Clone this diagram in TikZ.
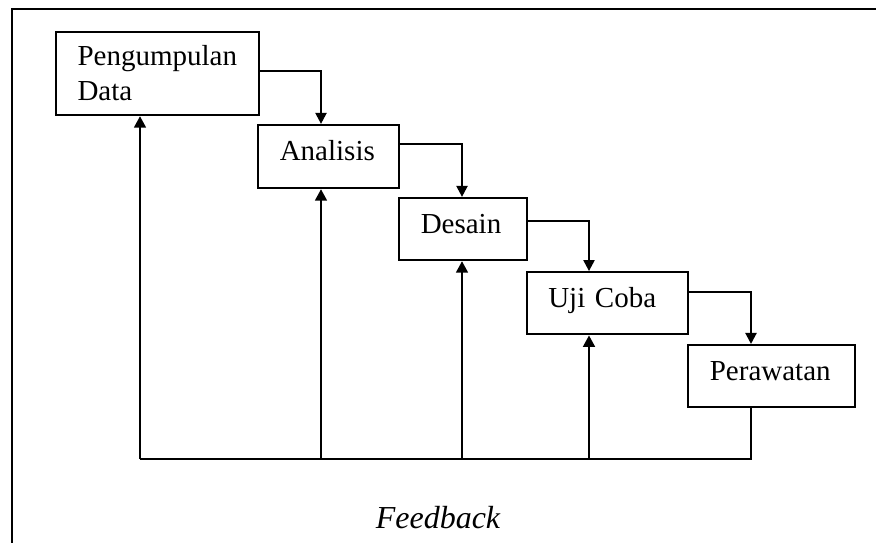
\documentclass[tikz,border=0pt]{standalone}
\usepackage{fontspec}
\setmainfont{Liberation Serif}
\usetikzlibrary{arrows.meta}
\tikzset{
  box/.style={draw, line width=2.2pt, rectangle, inner xsep=21.5pt, inner ysep=0pt,
    align=left, font=\fontsize{29pt}{35pt}\selectfont},
  onebox/.style={box, text height=20pt, text depth=12pt},
  conn/.style={line width=2.2pt, -{Triangle[width=11pt,length=11pt]}},
  fbline/.style={line width=2.2pt},
  fbarr/.style={line width=2.8pt, -{Triangle[width=11.5pt,length=11.5pt]}},
  frame/.style={line width=2.2pt}
}
\begin{document}
\begin{tikzpicture}[x=1pt,y=-1pt]
\useasboundingbox (0,0) rectangle (876,543);
% outer frame (top and left)
\draw[frame] (12,543) -- (12,9) -- (876,9);
% boxes
\node[box, text width=160pt, minimum height=83pt] (pd) at (157.5,73.5) {Pengumpulan\\Data};
\node[onebox, text width=98pt, minimum height=63pt] (an) at (328.8,156.5) {Analisis};
\node[onebox, text width=84.5pt, minimum height=62pt] (de) at (463,229) {Desain};
\node[onebox, text width=118.5pt, minimum height=62pt] (uc) at (607.5,303.2) {Uji Coba};
\node[onebox, text width=123.7pt, minimum height=62.3pt] (pr) at (771.7,376.2) {Perawatan};
% feedback bus coordinates
\coordinate (b0) at (140,459);
\coordinate (b1) at (321,459);
\coordinate (b2) at (462,459);
\coordinate (b3) at (589,459);
\coordinate (b4) at (751,459);
% forward connectors
\draw[conn] ([yshift=2.5pt]pd.east) -| (b1 |- an.north);
\draw[conn] ([yshift=12.5pt]an.east) -| (b2 |- de.north);
\draw[conn] ([yshift=8pt]de.east) -| (b3 |- uc.north);
\draw[conn] ([yshift=11.5pt]uc.east) -| (b4 |- pr.north);
% feedback
\draw[fbline] (b4 |- pr.south) -- (b4) -- (b0);
\draw[fbarr] (b0) -- (b0 |- pd.south);
\draw[fbarr] (b1) -- (b1 |- an.south);
\draw[fbarr] (b2) -- (b2 |- de.south);
\draw[fbarr] (b3) -- (b3 |- uc.south);
\node[anchor=base, font=\fontsize{32pt}{38pt}\selectfont\itshape] (fbt) at (438,528) {Feedback};
\end{tikzpicture}
\end{document}
